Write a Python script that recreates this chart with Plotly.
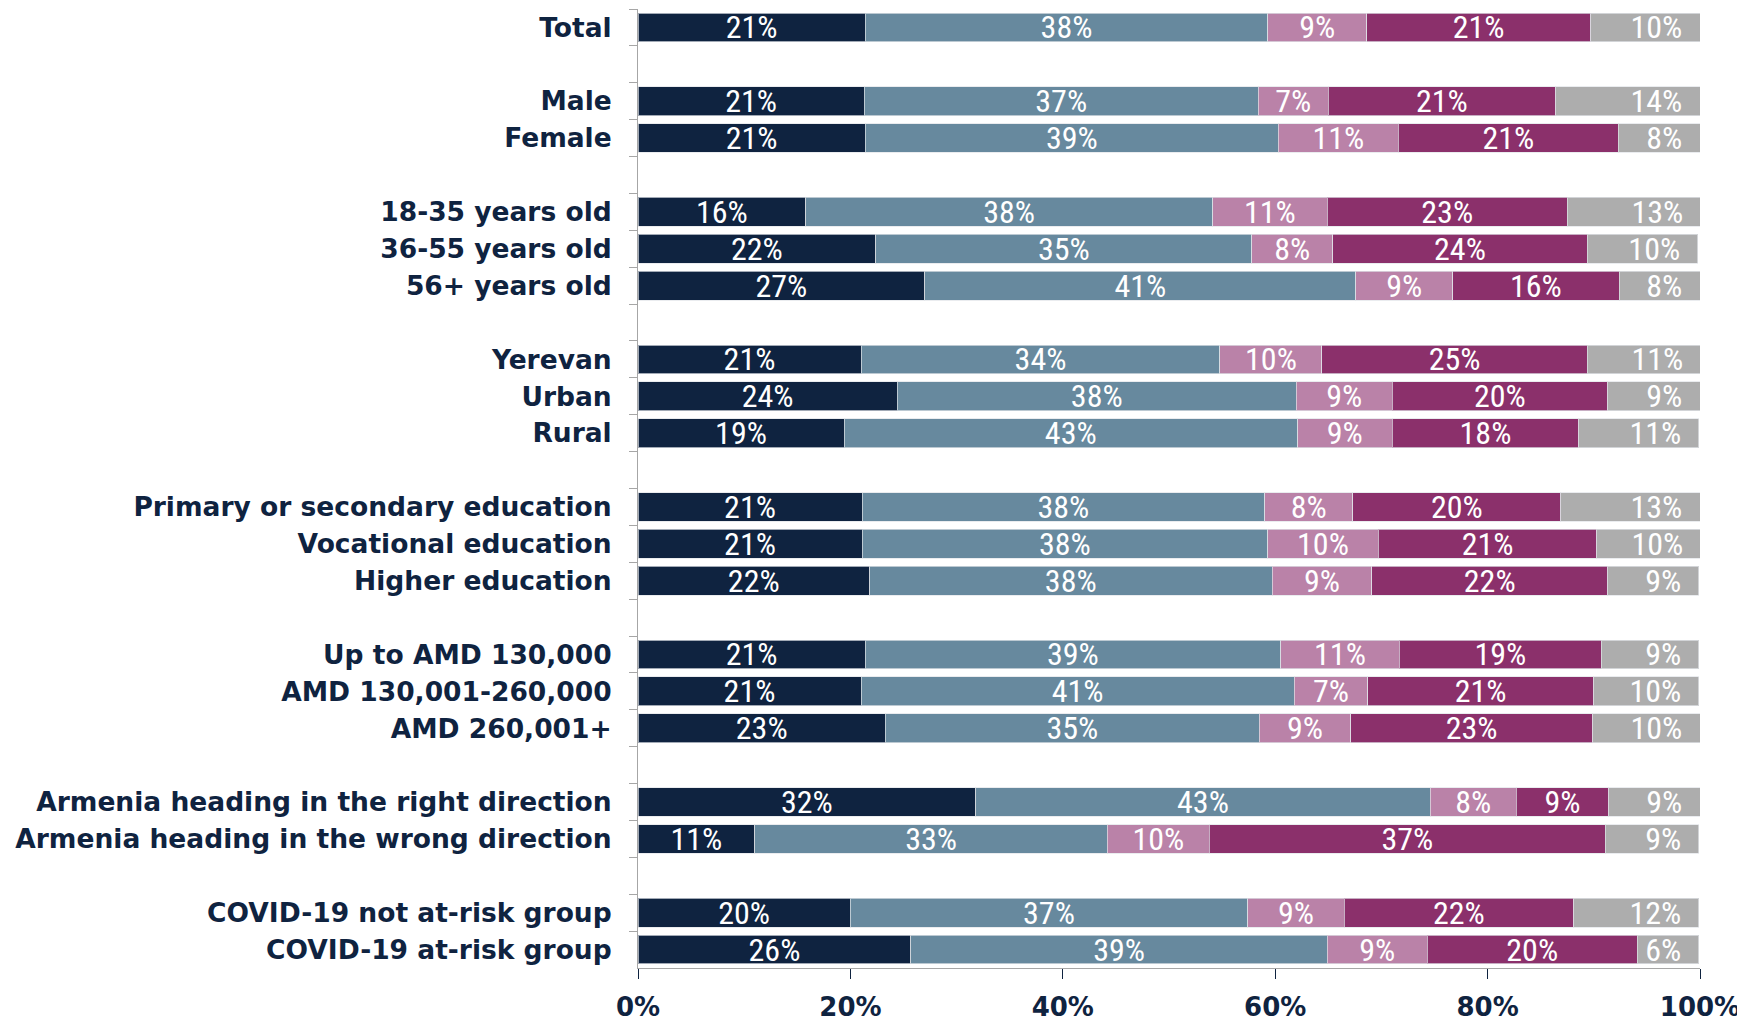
import plotly.graph_objects as go

categories = [
    "Total", " ",
    "Male", "Female", "  ",
    "18-35 years old", "36-55 years old", "56+ years old", "   ",
    "Yerevan", "Urban", "Rural", "    ",
    "Primary or secondary education", "Vocational education", "Higher education", "     ",
    "Up to AMD 130,000", "AMD 130,001-260,000", "AMD 260,001+", "      ",
    "Armenia heading in the right direction", "Armenia heading in the wrong direction", "       ",
    "COVID-19 not at-risk group", "COVID-19 at-risk group",
]

s1 = [21.4, None, 21.3, 21.4, None, 15.8, 22.4, 27.0, None, 21.0, 24.4, 19.4, None,
      21.1, 21.1, 21.8, None, 21.4, 21.0, 23.3, None, 31.8, 11.0, None, 20.0, 25.7]
s2 = [37.9, None, 37.1, 38.9, None, 38.3, 35.4, 40.6, None, 33.8, 37.6, 42.7, None,
      37.9, 38.2, 37.9, None, 39.1, 40.8, 35.2, None, 42.8, 33.2, None, 37.4, 39.2]
s3 = [9.3, None, 6.6, 11.3, None, 10.8, 7.6, 9.1, None, 9.6, 9.0, 8.9, None,
      8.3, 10.4, 9.4, None, 11.2, 6.9, 8.6, None, 8.1, 9.6, None, 9.1, 9.4]
s4 = [21.1, None, 21.4, 20.7, None, 22.6, 24.0, 15.7, None, 25.0, 20.3, 17.6, None,
      19.6, 20.6, 22.2, None, 19.0, 21.3, 22.8, None, 8.7, 37.3, None, 21.6, 19.8]
s5 = [10.3, None, 13.6, 7.7, None, 12.6, 10.4, 7.6, None, 10.7, 8.7, 11.3, None,
      13.1, 9.8, 8.6, None, 9.2, 9.9, 10.1, None, 8.6, 8.8, None, 11.8, 5.8]

x_ticks = [0, 20, 40, 60, 80, 100]
x_ticktext = ["0%", "20%", "40%", "60%", "80%", "100%"]

series = [s1, s2, s3, s4, s5]
colors = ["#0f2340", "#67899e", "#ba82a8", "#8b306b", "#adadad"]
anchors = ["middle", "middle", "middle", "middle", "end"]
templates = ["%{x:.0f}%", "%{x:.0f}%", "%{x:.0f}%", "%{x:.0f}%", "%{x:.0f}%\u00a0\u00a0"]

NAVY = "#0f2340"
VAL_FONT = "Liberation Sans Narrow, Roboto Condensed, Arial Narrow, sans-serif"
LBL_FONT = "DejaVu Sans, Verdana, sans-serif"

fig = go.Figure()
for vals, col, anc, tpl in zip(series, colors, anchors, templates):
    fig.add_trace(go.Bar(
        y=categories, x=vals, orientation="h",
        marker=dict(color=col, line=dict(color="rgba(225,228,232,0.7)", width=1)),
        texttemplate=tpl, textposition="inside", insidetextanchor=anc,
        textangle=0, constraintext="none",
        textfont=dict(family=VAL_FONT, size=32, color="white"),
        hoverinfo="skip", showlegend=False,
    ))

fig.update_layout(
    barmode="stack", bargap=0.22,
    width=1737, height=1013,
    margin=dict(l=630, r=45, t=1, b=53, autoexpand=False),
    paper_bgcolor="white", plot_bgcolor="white",
    uniformtext=dict(minsize=32, mode="show"),
)
fig.update_xaxes(
    range=[0, 100], tickvals=x_ticks, ticktext=x_ticktext,
    showgrid=False, zeroline=False, automargin=False,
    showline=True, linecolor="#a6a6a6", linewidth=1,
    ticks="outside", ticklen=10, tickcolor=NAVY, tickwidth=1,
    ticklabelstandoff=6,
    tickfont=dict(family=LBL_FONT, size=26, color=NAVY, weight="bold"),
)
fig.update_yaxes(
    type="category", categoryorder="array", categoryarray=categories,
    range=[len(categories) - 0.5, -0.5], automargin=False,
    tickson="boundaries", ticks="outside", ticklen=8, tickcolor="#a6a6a6",
    ticklabelstandoff=20,
    showline=True, linecolor="#a6a6a6", linewidth=1,
    showgrid=False, zeroline=False,
    tickfont=dict(family=LBL_FONT, size=26.5, color=NAVY, weight="bold"),
)

fig.write_html("out.html")
